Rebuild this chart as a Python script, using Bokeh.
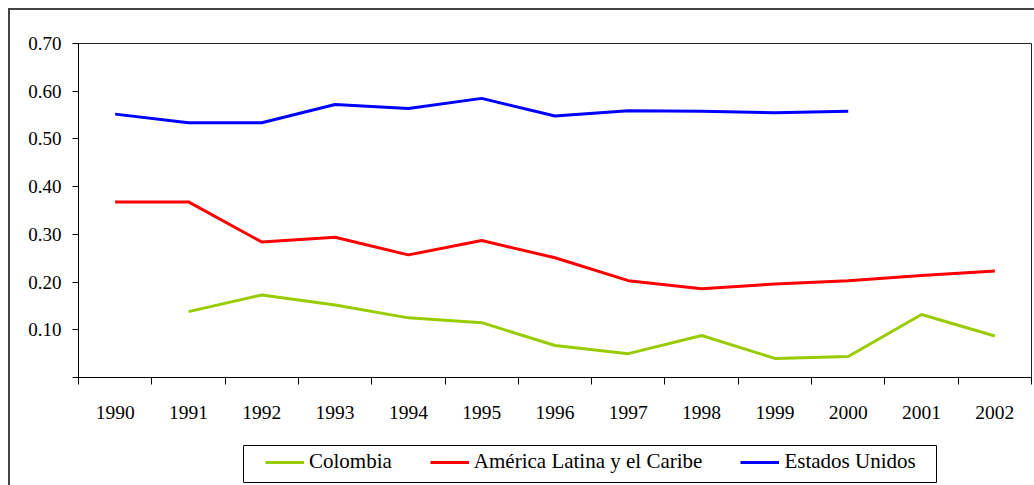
import numpy as np
from bokeh.plotting import figure
from bokeh.layouts import column
from bokeh.models import (ColumnDataSource, FixedTicker, CustomJSTickFormatter, Legend,
                          LegendItem, Range1d, BoxAnnotation)
from bokeh.embed import file_html
from bokeh.resources import INLINE

# ---- data ----
years = ["1990", "1991", "1992", "1993", "1994", "1995", "1996",
         "1997", "1998", "1999", "2000", "2001", "2002"]
colombia = [np.nan, 0.138, 0.173, 0.152, 0.125, 0.115, 0.067,
            0.050, 0.088, 0.040, 0.044, 0.132, 0.087]
america_latina = [0.368, 0.368, 0.284, 0.294, 0.257, 0.287, 0.251,
                  0.203, 0.186, 0.196, 0.203, 0.214, 0.223]
estados_unidos = [0.552, 0.534, 0.534, 0.572, 0.564, 0.585, 0.548,
                  0.559, 0.558, 0.555, 0.558, np.nan, np.nan]
y_ticks = [0.0, 0.1, 0.2, 0.3, 0.4, 0.5, 0.6, 0.7]
series_names = ["Colombia", "América Latina y el Caribe", "Estados Unidos"]
series_colors = ["#99CC00", "#FF0000", "#0000FF"]

n = len(years)
centers = [i + 0.5 for i in range(n)]
boundaries = [float(i) for i in range(n + 1)]

src = ColumnDataSource(dict(
    x=centers,
    col=np.array(colombia, dtype=float),
    alc=np.array(america_latina, dtype=float),
    us=np.array(estados_unidos, dtype=float),
))

FONT = "Liberation Serif"
W = 1024
BL, BR = 68, 3
FW = W - BL - BR  # frame width in px

# ---------------- main chart ----------------
p = figure(width=W, height=430,
           x_range=Range1d(0, n), y_range=Range1d(0, 0.7),
           output_backend="svg", toolbar_location=None,
           min_border_left=BL, min_border_right=BR,
           min_border_top=33, min_border_bottom=63)

p.xgrid.visible = False
p.ygrid.visible = False
p.outline_line_color = "#222222"
p.outline_line_width = 1
p.background_fill_color = "white"
p.border_fill_color = "white"

xa = p.xaxis[0]
xa.ticker = FixedTicker(ticks=centers, minor_ticks=boundaries)
xa.formatter = CustomJSTickFormatter(args=dict(labels=years),
                                     code="return labels[Math.floor(tick)];")
xa.major_tick_out = 0
xa.major_tick_in = 0
xa.minor_tick_out = 7
xa.minor_tick_in = 0
xa.minor_tick_line_color = "black"
xa.axis_line_color = "black"
xa.major_label_standoff = 21
xa.major_label_text_font = FONT
xa.major_label_text_font_size = "19.5px"
xa.major_label_text_color = "black"

ya = p.yaxis[0]
ya.ticker = FixedTicker(ticks=y_ticks, minor_ticks=[])
ya.formatter = CustomJSTickFormatter(code="return tick < 1e-9 ? '' : tick.toFixed(2);")
ya.major_tick_out = 6
ya.major_tick_in = 0
ya.minor_tick_out = 0
ya.minor_tick_in = 0
ya.major_tick_line_color = "black"
ya.axis_line_color = "black"
ya.major_label_standoff = 11
ya.major_label_text_font = FONT
ya.major_label_text_font_size = "19px"
ya.major_label_text_color = "black"

p.line(x="x", y="col", source=src, line_color=series_colors[0], line_width=3)
p.line(x="x", y="alc", source=src, line_color=series_colors[1], line_width=3)
p.line(x="x", y="us", source=src, line_color=series_colors[2], line_width=3)

# ---------------- legend strip ----------------
LH = 45
lg = figure(width=W, height=LH, x_range=Range1d(0, FW), y_range=Range1d(0, LH),
            output_backend="svg", toolbar_location=None,
            x_axis_location=None, y_axis_location=None,
            min_border_left=BL, min_border_right=BR,
            min_border_top=0, min_border_bottom=0, outline_line_color=None)
lg.xgrid.visible = False
lg.ygrid.visible = False
lg.background_fill_color = "white"
lg.border_fill_color = "white"

# legend proxies (kept outside the visible strip)
proxy = ColumnDataSource(dict(x=[-50, -40], y=[-50, -50]))
leg_renderers = [lg.line(x="x", y="y", source=proxy, line_color=c, line_width=3)
                 for c in series_colors]

lg.add_layout(BoxAnnotation(left=165, right=858, bottom=3, top=40,
                            fill_alpha=0, line_color="black", line_alpha=1,
                            line_width=1))

legend = Legend(items=[LegendItem(label=name, renderers=[r])
                       for name, r in zip(series_names, leg_renderers)],
                orientation="horizontal", location=(187, 11),
                padding=0, margin=0, spacing=38, label_standoff=5,
                glyph_width=39, glyph_height=20, label_height=20,
                border_line_alpha=0, background_fill_alpha=0,
                label_text_font=FONT, label_text_font_size="21px",
                label_text_color="black")
lg.add_layout(legend)

lay = column(p, lg, spacing=0)
lay.styles = {"margin-left": "8px", "margin-top": "8px",
              "border-top": "2px solid #444", "border-left": "2px solid #444"}

open("out.html", "w").write(file_html(lay, INLINE))
